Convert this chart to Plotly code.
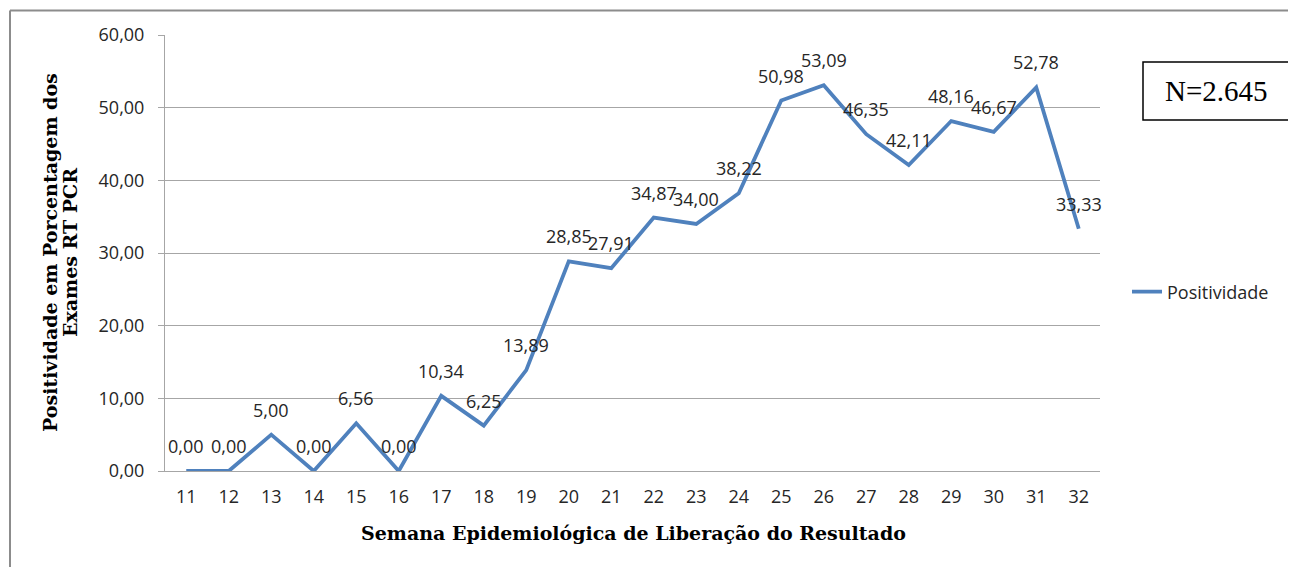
import plotly.graph_objects as go

weeks = ["11", "12", "13", "14", "15", "16", "17", "18", "19", "20", "21",
         "22", "23", "24", "25", "26", "27", "28", "29", "30", "31", "32"]
positividade = [0.00, 0.00, 5.00, 0.00, 6.56, 0.00, 10.34, 6.25, 13.89, 28.85, 27.91,
                34.87, 34.00, 38.22, 50.98, 53.09, 46.35, 42.11, 48.16, 46.67, 52.78, 33.33]
y_ticks = [0, 10, 20, 30, 40, 50, 60]
series_name = "Positividade"
note_text = "N=2.645"
x_title = "Semana Epidemiológica de Liberação do Resultado"
y_title_lines = ["Positividade em Porcentagem dos", "Exames RT PCR"]

def fmt(v):
    return f"{v:.2f}".replace(".", ",")

# page coordinates (browser body has an 8px margin)
OFF = 8
W, H = 1296 - OFF, 567 - OFF
L, R, T, B = 165, 1100, 35, 471

tick_font = dict(family="Open Sans", size=18, color="#262626")
title_font = dict(family="DejaVu Serif", size=19, color="#000000")

def px_x(p):
    return (p - L) / (R - L)

def px_y(p):
    return (B - p) / (B - T)

fig = go.Figure()
fig.add_trace(go.Scatter(
    x=list(range(len(weeks))), y=positividade, mode="lines", name=series_name,
    line=dict(color="#4F81BD", width=3.8),
))

for i, v in enumerate(positividade):
    fig.add_annotation(x=i, y=v, text=fmt(v), showarrow=False, yshift=25,
                       xanchor="center", yanchor="middle",
                       font=tick_font, xref="x", yref="y")

# outer chart border (top and left visible)
fig.add_shape(type="line", xref="paper", yref="paper",
              x0=px_x(10), x1=px_x(10), y0=px_y(620), y1=px_y(10.5),
              line=dict(color="#8C8C8C", width=2))
fig.add_shape(type="line", xref="paper", yref="paper",
              x0=px_x(10), x1=px_x(1320), y0=px_y(10.5), y1=px_y(10.5),
              line=dict(color="#8C8C8C", width=2))

# N box
fig.add_shape(type="rect", xref="paper", yref="paper",
              x0=px_x(1143), x1=px_x(1289), y0=px_y(120), y1=px_y(62),
              line=dict(color="#000000", width=1.5), fillcolor="white")
fig.add_annotation(xref="paper", yref="paper", x=px_x(1216), y=px_y(91),
                   xanchor="center", yanchor="middle",
                   text=note_text, showarrow=False,
                   font=dict(family="Liberation Serif", size=29, color="#000000"))

# axis titles
fig.add_annotation(xref="paper", yref="paper", x=px_x(633), y=px_y(533),
                   xanchor="center", yanchor="middle", showarrow=False,
                   text="<b>" + x_title + "</b>", font=title_font)
for xpos, line in zip([50, 70], y_title_lines):
    fig.add_annotation(xref="paper", yref="paper", x=px_x(xpos), y=px_y(253),
                       xanchor="center", yanchor="middle", showarrow=False,
                       textangle=-90, text="<b>" + line + "</b>", font=title_font)

fig.update_layout(
    width=W, height=H,
    margin=dict(l=L - OFF, r=W - (R - OFF), t=T - OFF, b=H - (B - OFF), autoexpand=False),
    plot_bgcolor="white", paper_bgcolor="white",
    showlegend=True,
    legend=dict(x=px_x(1127), y=px_y(292), xanchor="left", yanchor="middle",
                font=dict(family="Open Sans", size=18, color="#262626"),
                bgcolor="rgba(0,0,0,0)"),
    xaxis=dict(
        range=[-0.5, len(weeks) - 0.5],
        tickvals=list(range(len(weeks))), ticktext=weeks, tickfont=tick_font,
        showgrid=False, showline=True, linecolor="#A6A6A6", linewidth=1,
        ticks="", ticklabelstandoff=9, zeroline=False,
    ),
    yaxis=dict(
        range=[0, 60], tickvals=y_ticks, ticktext=[fmt(v) for v in y_ticks],
        tickfont=tick_font, showgrid=True, gridcolor="#A6A6A6", gridwidth=1,
        showline=True, linecolor="#A6A6A6", linewidth=1,
        ticks="outside", ticklen=6, tickcolor="#A6A6A6", ticklabelstandoff=10,
        zeroline=False,
    ),
)

fig.write_html("out.html")
